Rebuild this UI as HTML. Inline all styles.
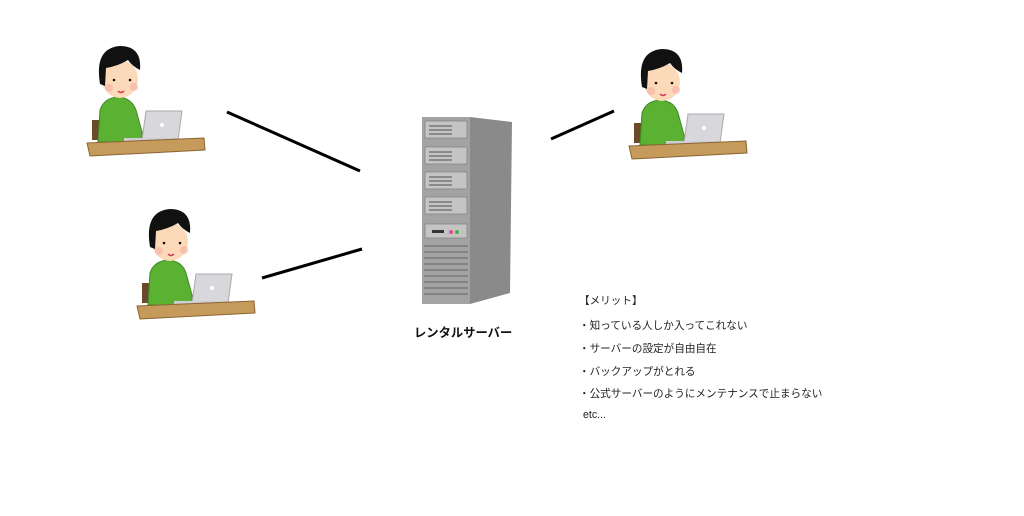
<!DOCTYPE html>
<html><head><meta charset="utf-8"><style>
body{margin:0;width:1024px;height:516px;background:#fff;overflow:hidden;position:relative;font-family:"Liberation Sans","Noto Sans CJK JP",sans-serif;}
.t{position:absolute;font-size:10.6px;color:#222;white-space:nowrap}
</style></head><body>
<svg width="1024" height="516" style="position:absolute;left:0;top:0">
<defs>
<g id="p">
<rect x="92" y="120" width="10" height="20" fill="#6b4a2b"/>
<path d="M98 142 L100 110 Q104 98 118 97 Q132 98 136 110 L142 132 L142 142 Z" fill="#5bb132" stroke="#3f8a22" stroke-width="1"/>
<ellipse cx="120" cy="79" rx="18" ry="19" fill="#fcd9b8"/>
<path d="M100 84 Q94 48 120 46 Q142 46 140 70 Q132 66 128 60 Q118 66 106 68 L105 86 Z" fill="#111"/>
<circle cx="109" cy="88" r="4" fill="#f8b3a6" opacity=".7"/>
<circle cx="134" cy="87" r="4" fill="#f8b3a6" opacity=".7"/>
<circle cx="114" cy="80" r="1.3" fill="#111"/>
<circle cx="130" cy="80" r="1.3" fill="#111"/>
<path d="M118 91 Q121 94 124 91" stroke="#d0375a" stroke-width="1.5" fill="none"/>
<path d="M146 111 L182 111 L178 140 L142 140 Z" fill="#d8d8dc" stroke="#aaa"/>
<circle cx="162" cy="125" r="2" fill="#fff"/>
<rect x="124" y="138" width="54" height="4" fill="#cfcfd3"/>
<path d="M87 143 L204 138 L205 150 L90 156 Z" fill="#c59a5a" stroke="#8a6434"/>
</g>
</defs>
<use href="#p"/>
<use href="#p" transform="translate(50,163)"/>
<use href="#p" transform="translate(542,3)"/>
<g stroke="#000" stroke-width="3">
<line x1="227" y1="112" x2="360" y2="171"/>
<line x1="262" y1="278" x2="362" y2="249"/>
<line x1="551" y1="139" x2="614" y2="111"/>
</g>
<path d="M470 117 L512 122 L510 293 L470 304 Z" fill="#8a8a8a"/>
<rect x="422" y="117" width="48" height="187" fill="#a3a3a3"/>
<g fill="#c4c4c4" stroke="#777" stroke-width=".6">
<rect x="425" y="121" width="42" height="17"/>
<rect x="425" y="147" width="42" height="17"/>
<rect x="425" y="172" width="42" height="17"/>
<rect x="425" y="197" width="42" height="17"/>
<rect x="425" y="224" width="42" height="14"/>
</g>
<g stroke="#666" stroke-width="1.2">
<line x1="429" y1="126" x2="452" y2="126"/><line x1="429" y1="130" x2="452" y2="130"/><line x1="429" y1="134" x2="452" y2="134"/>
<line x1="429" y1="152" x2="452" y2="152"/><line x1="429" y1="156" x2="452" y2="156"/><line x1="429" y1="160" x2="452" y2="160"/>
<line x1="429" y1="177" x2="452" y2="177"/><line x1="429" y1="181" x2="452" y2="181"/><line x1="429" y1="185" x2="452" y2="185"/>
<line x1="429" y1="202" x2="452" y2="202"/><line x1="429" y1="206" x2="452" y2="206"/><line x1="429" y1="210" x2="452" y2="210"/>
</g>
<rect x="432" y="230" width="12" height="3" fill="#333"/>
<circle cx="451" cy="232" r="2" fill="#e04a9a"/>
<circle cx="457" cy="232" r="2" fill="#3fb04a"/>
<g stroke="#666" stroke-width="1">
<line x1="424" y1="246" x2="468" y2="246"/><line x1="424" y1="252" x2="468" y2="252"/>
<line x1="424" y1="258" x2="468" y2="258"/><line x1="424" y1="264" x2="468" y2="264"/>
<line x1="424" y1="270" x2="468" y2="270"/><line x1="424" y1="276" x2="468" y2="276"/>
<line x1="424" y1="282" x2="468" y2="282"/><line x1="424" y1="288" x2="468" y2="288"/>
<line x1="424" y1="294" x2="468" y2="294"/>
</g>
</svg>
<div class="t" style="left:414px;top:323px;font-size:12.3px;font-weight:bold;color:#111">レンタルサーバー</div>
<div class="t" style="left:579px;top:293px">【メリット】</div>
<div class="t" style="left:579px;top:318px">・知っている人しか入ってこれない</div>
<div class="t" style="left:579px;top:341px">・サーバーの設定が自由自在</div>
<div class="t" style="left:579px;top:364px">・バックアップがとれる</div>
<div class="t" style="left:579px;top:386px">・公式サーバーのようにメンテナンスで止まらない</div>
<div class="t" style="left:583px;top:409px">etc...</div>
</body></html>
